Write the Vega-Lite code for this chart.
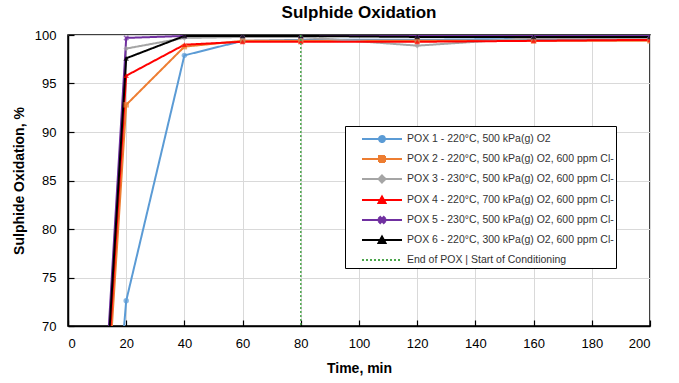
{
  "$schema": "https://vega.github.io/schema/vega-lite/v6.json",
  "width": 582,
  "height": 291,
  "padding": {"left": 12, "top": 4, "right": 25, "bottom": 5},
  "title": {"text": "Sulphide Oxidation", "fontSize": 17, "font": "Liberation Sans", "fontWeight": "bold", "color": "black", "offset": 7},
  "config": {
    "font": "Liberation Sans",
    "view": {"stroke": "black", "strokeWidth": 1.5},
    "axis": {"labelFontSize": 13, "labelColor": "black", "titleFontSize": 14, "titleFontWeight": "bold", "titleColor": "black", "domainColor": "black", "domainWidth": 1.5, "tickColor": "black", "tickWidth": 1.2, "gridColor": "#d9d9d9", "gridWidth": 1, "labelOverlap": false, "labelBound": false}
  },
  "datasets": {
    "pox": [
      {"series": "POX 1 - 220°C, 500 kPa(g) O2", "time": 0, "value": 0},
      {"series": "POX 1 - 220°C, 500 kPa(g) O2", "time": 20, "value": 72.6},
      {"series": "POX 1 - 220°C, 500 kPa(g) O2", "time": 40, "value": 97.9},
      {"series": "POX 1 - 220°C, 500 kPa(g) O2", "time": 60, "value": 99.4},
      {"series": "POX 1 - 220°C, 500 kPa(g) O2", "time": 80, "value": 99.5},
      {"series": "POX 1 - 220°C, 500 kPa(g) O2", "time": 120, "value": 99.5},
      {"series": "POX 1 - 220°C, 500 kPa(g) O2", "time": 160, "value": 99.6},
      {"series": "POX 1 - 220°C, 500 kPa(g) O2", "time": 200, "value": 99.6},
      {"series": "POX 2 - 220°C, 500 kPa(g) O2, 600 ppm Cl-", "time": 0, "value": 0},
      {"series": "POX 2 - 220°C, 500 kPa(g) O2, 600 ppm Cl-", "time": 20, "value": 92.8},
      {"series": "POX 2 - 220°C, 500 kPa(g) O2, 600 ppm Cl-", "time": 40, "value": 98.8},
      {"series": "POX 2 - 220°C, 500 kPa(g) O2, 600 ppm Cl-", "time": 60, "value": 99.4},
      {"series": "POX 2 - 220°C, 500 kPa(g) O2, 600 ppm Cl-", "time": 80, "value": 99.4},
      {"series": "POX 2 - 220°C, 500 kPa(g) O2, 600 ppm Cl-", "time": 120, "value": 99.4},
      {"series": "POX 2 - 220°C, 500 kPa(g) O2, 600 ppm Cl-", "time": 160, "value": 99.4},
      {"series": "POX 2 - 220°C, 500 kPa(g) O2, 600 ppm Cl-", "time": 200, "value": 99.4},
      {"series": "POX 3 - 230°C, 500 kPa(g) O2, 600 ppm Cl-", "time": 0, "value": 0},
      {"series": "POX 3 - 230°C, 500 kPa(g) O2, 600 ppm Cl-", "time": 20, "value": 98.6},
      {"series": "POX 3 - 230°C, 500 kPa(g) O2, 600 ppm Cl-", "time": 40, "value": 99.7},
      {"series": "POX 3 - 230°C, 500 kPa(g) O2, 600 ppm Cl-", "time": 60, "value": 99.8},
      {"series": "POX 3 - 230°C, 500 kPa(g) O2, 600 ppm Cl-", "time": 80, "value": 99.8},
      {"series": "POX 3 - 230°C, 500 kPa(g) O2, 600 ppm Cl-", "time": 120, "value": 98.9},
      {"series": "POX 3 - 230°C, 500 kPa(g) O2, 600 ppm Cl-", "time": 160, "value": 99.7},
      {"series": "POX 3 - 230°C, 500 kPa(g) O2, 600 ppm Cl-", "time": 200, "value": 99.7},
      {"series": "POX 4 - 220°C, 700 kPa(g) O2, 600 ppm Cl-", "time": 0, "value": 0},
      {"series": "POX 4 - 220°C, 700 kPa(g) O2, 600 ppm Cl-", "time": 20, "value": 95.8},
      {"series": "POX 4 - 220°C, 700 kPa(g) O2, 600 ppm Cl-", "time": 40, "value": 99.0},
      {"series": "POX 4 - 220°C, 700 kPa(g) O2, 600 ppm Cl-", "time": 60, "value": 99.3},
      {"series": "POX 4 - 220°C, 700 kPa(g) O2, 600 ppm Cl-", "time": 80, "value": 99.3},
      {"series": "POX 4 - 220°C, 700 kPa(g) O2, 600 ppm Cl-", "time": 120, "value": 99.3},
      {"series": "POX 4 - 220°C, 700 kPa(g) O2, 600 ppm Cl-", "time": 160, "value": 99.4},
      {"series": "POX 4 - 220°C, 700 kPa(g) O2, 600 ppm Cl-", "time": 200, "value": 99.5},
      {"series": "POX 5 - 230°C, 500 kPa(g) O2, 600 ppm Cl-", "time": 0, "value": 0},
      {"series": "POX 5 - 230°C, 500 kPa(g) O2, 600 ppm Cl-", "time": 20, "value": 99.7},
      {"series": "POX 5 - 230°C, 500 kPa(g) O2, 600 ppm Cl-", "time": 40, "value": 99.9},
      {"series": "POX 5 - 230°C, 500 kPa(g) O2, 600 ppm Cl-", "time": 60, "value": 99.9},
      {"series": "POX 5 - 230°C, 500 kPa(g) O2, 600 ppm Cl-", "time": 80, "value": 99.9},
      {"series": "POX 5 - 230°C, 500 kPa(g) O2, 600 ppm Cl-", "time": 120, "value": 99.9},
      {"series": "POX 5 - 230°C, 500 kPa(g) O2, 600 ppm Cl-", "time": 160, "value": 99.9},
      {"series": "POX 5 - 230°C, 500 kPa(g) O2, 600 ppm Cl-", "time": 200, "value": 99.9},
      {"series": "POX 6 - 220°C, 300 kPa(g) O2, 600 ppm Cl-", "time": 0, "value": 0},
      {"series": "POX 6 - 220°C, 300 kPa(g) O2, 600 ppm Cl-", "time": 20, "value": 97.6},
      {"series": "POX 6 - 220°C, 300 kPa(g) O2, 600 ppm Cl-", "time": 40, "value": 99.9},
      {"series": "POX 6 - 220°C, 300 kPa(g) O2, 600 ppm Cl-", "time": 60, "value": 99.9},
      {"series": "POX 6 - 220°C, 300 kPa(g) O2, 600 ppm Cl-", "time": 80, "value": 99.9},
      {"series": "POX 6 - 220°C, 300 kPa(g) O2, 600 ppm Cl-", "time": 120, "value": 99.8},
      {"series": "POX 6 - 220°C, 300 kPa(g) O2, 600 ppm Cl-", "time": 160, "value": 99.8},
      {"series": "POX 6 - 220°C, 300 kPa(g) O2, 600 ppm Cl-", "time": 200, "value": 99.8}
    ],
    "endpox": [
      {"series": "End of POX  |  Start of Conditioning", "time": 80}
    ]
  },
  "layer": [
    {
      "data": {"name": "pox"},
      "mark": {"type": "line", "strokeWidth": 2, "clip": true},
      "encoding": {
        "x": {"field": "time", "type": "quantitative",
          "scale": {"domain": [0, 200], "nice": false, "zero": false},
          "axis": {"title": "Time, min", "values": [0,5,10,15,20,25,30,35,40,45,50,55,60,65,70,75,80,85,90,95,100,105,110,115,120,125,130,135,140,145,150,155,160,165,170,175,180,185,190,195,200],
            "labelExpr": "datum.value % 20 === 0 ? datum.label : ''",
            "gridOpacity": {"condition": {"test": "datum.value % 20 === 0", "value": 1}, "value": 0},
            "tickSize": {"condition": {"test": "datum.value % 20 === 0", "value": -6}, "value": -4},
            "labelPadding": 17, "titlePadding": 11}},
        "y": {"field": "value", "type": "quantitative",
          "scale": {"domain": [70, 100], "nice": false, "zero": false},
          "axis": {"title": "Sulphide Oxidation, %", "values": [70, 75, 80, 85, 90, 95, 100], "tickSize": -6,
            "labelPadding": 18, "titlePadding": 8}},
        "color": {"field": "series", "type": "nominal",
          "scale": {"domain": ["POX 1 - 220°C, 500 kPa(g) O2", "POX 2 - 220°C, 500 kPa(g) O2, 600 ppm Cl-", "POX 3 - 230°C, 500 kPa(g) O2, 600 ppm Cl-", "POX 4 - 220°C, 700 kPa(g) O2, 600 ppm Cl-", "POX 5 - 230°C, 500 kPa(g) O2, 600 ppm Cl-", "POX 6 - 220°C, 300 kPa(g) O2, 600 ppm Cl-", "End of POX  |  Start of Conditioning"],
            "range": ["#5B9BD5", "#ED7D31", "#A5A5A5", "#FF0000", "#7030A0", "#000000", "#4CA64C"]},
          "legend": {"title": null, "orient": "none", "legendX": 277, "legendY": 91, "symbolType": "M0.4,0H4.4", "symbolSize": 400, "symbolStrokeWidth": 2, "labelFontSize": 10.5, "labelColor": "#333333", "labelLimit": 300, "strokeColor": "black", "fillColor": "white", "padding": 2, "rowPadding": 2, "labelOffset": 38,
            "encode": {"symbols": {"update": {
              "shape": {"signal": "['M0.4,0H4.4M2.7,0A0.3,0.3 0 1,1 2.1,0A0.3,0.3 0 1,1 2.7,0Z', 'M0.4,0H4.4M2.1,-0.3H2.7V0.3H2.1Z', 'M0.4,0H4.4M2.4,-0.35L2.75,0L2.4,0.35L2.05,0Z', 'M0.4,0H4.4M2.4,-0.35L2.75,0.3H2.05Z', 'M0.4,0H4.4M2.22,-0.3L2.4,-0.12L2.58,-0.3L2.7,-0.18L2.52,0L2.7,0.18L2.58,0.3L2.4,0.12L2.22,0.3L2.1,0.18L2.28,0L2.1,-0.18Z', 'M0.4,0H4.4M2.4,-0.35L2.75,0.3H2.05Z', 'M0.4,0H4.4'][datum.index]"},
              "fill": {"signal": "datum.index < 6 ? scale('color', datum.value) : 'transparent'"},
              "strokeWidth": {"value": 2}
            }}}},
          "title": null},
        "strokeDash": {"field": "series", "type": "nominal",
          "scale": {"domain": ["POX 1 - 220°C, 500 kPa(g) O2", "POX 2 - 220°C, 500 kPa(g) O2, 600 ppm Cl-", "POX 3 - 230°C, 500 kPa(g) O2, 600 ppm Cl-", "POX 4 - 220°C, 700 kPa(g) O2, 600 ppm Cl-", "POX 5 - 230°C, 500 kPa(g) O2, 600 ppm Cl-", "POX 6 - 220°C, 300 kPa(g) O2, 600 ppm Cl-", "End of POX  |  Start of Conditioning"],
            "range": [[1,0],[1,0],[1,0],[1,0],[1,0],[1,0],[2,2]]},
          "title": null}
      }
    },
    {
      "data": {"name": "pox"},
      "mark": {"type": "point", "filled": true, "size": 30, "clip": true, "strokeWidth": 1},
      "encoding": {
        "x": {"field": "time", "type": "quantitative"},
        "y": {"field": "value", "type": "quantitative"},
        "color": {"field": "series", "type": "nominal"},
        "shape": {"field": "series", "type": "nominal", "legend": null,
          "scale": {"domain": ["POX 1 - 220°C, 500 kPa(g) O2", "POX 2 - 220°C, 500 kPa(g) O2, 600 ppm Cl-", "POX 3 - 230°C, 500 kPa(g) O2, 600 ppm Cl-", "POX 4 - 220°C, 700 kPa(g) O2, 600 ppm Cl-", "POX 5 - 230°C, 500 kPa(g) O2, 600 ppm Cl-", "POX 6 - 220°C, 300 kPa(g) O2, 600 ppm Cl-"],
            "range": ["circle", "square", "diamond", "triangle-up", "M-0.6,-1L0,-0.4L0.6,-1L1,-0.6L0.4,0L1,0.6L0.6,1L0,0.4L-0.6,1L-1,0.6L-0.4,0L-1,-0.6Z", "triangle-up"]}}
      }
    },
    {
      "data": {"name": "endpox"},
      "mark": {"type": "rule", "strokeWidth": 1.5},
      "encoding": {
        "x": {"field": "time", "type": "quantitative"},
        "color": {"field": "series", "type": "nominal"},
        "strokeDash": {"field": "series", "type": "nominal"}
      }
    }
  ]
}
